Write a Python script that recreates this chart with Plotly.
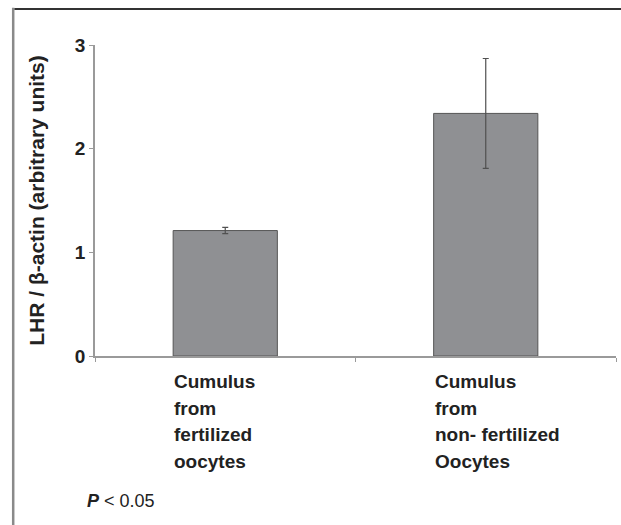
import plotly.graph_objects as go

# Group labels (one list of caption lines per bar) and measured LHR / beta-actin ratios
categories = ["fertilized", "non-fertilized"]
category_lines = [
    ["Cumulus", "from", "fertilized", "oocytes"],
    ["Cumulus", "from", "non- fertilized", "Oocytes"],
]
means = [1.21, 2.34]
errors = [0.03, 0.53]
y_ticks = [0, 1, 2, 3]

FONT = "Liberation Sans, Arial, sans-serif"
AXIS_GREY = "#9a9a9a"
TEXT = "#222222"
LINE_STEP = 26.5  # px between caption lines

fig = go.Figure()
fig.add_trace(go.Bar(
    x=categories,
    y=means,
    width=0.4,
    marker=dict(color="#8f9093", line=dict(color="#555555", width=1)),
    error_y=dict(type="data", array=errors, visible=True,
                 color="#505050", thickness=1.2, width=3),
    showlegend=False,
))

# Left-aligned group captions under each bar, one annotation per line
for cat, lines in zip(categories, category_lines):
    for i, line in enumerate(lines):
        fig.add_annotation(
            x=cat, y=0, xref="x", yref="y",
            text=line, showarrow=False,
            xanchor="left", yanchor="top", align="left",
            xshift=-53, yshift=-13 - i * LINE_STEP,
            font=dict(family=FONT, size=19, color=TEXT, weight="bold"),
        )

# Significance note
fig.add_annotation(
    x=-0.019, y=-0.465, xref="paper", yref="paper",
    text="<b><i>P</i></b> < 0.05", showarrow=False,
    xanchor="left", yanchor="middle",
    font=dict(family=FONT, size=18, color=TEXT),
)

# Frame lines along the top and left edges of the figure
fig.add_shape(type="line", xref="paper", yref="paper",
              x0=-0.155, x1=1.02, y0=1.116, y1=1.116,
              line=dict(color="#333333", width=2))
fig.add_shape(type="line", xref="paper", yref="paper",
              x0=-0.157, x1=-0.157, y0=1.12, y1=-0.56,
              line=dict(color="#8a8a8a", width=2.5))

fig.update_layout(
    width=621, height=525,
    margin=dict(l=95, r=5, t=45, b=169),
    paper_bgcolor="white", plot_bgcolor="white",
    font=dict(family=FONT, color=TEXT),
)
fig.update_xaxes(
    range=[-0.5, 1.5],
    showline=True, linecolor=AXIS_GREY, linewidth=1.5,
    ticks="outside", tickson="boundaries", ticklen=4, tickcolor=AXIS_GREY,
    showticklabels=False, showgrid=False, zeroline=False,
)
fig.update_yaxes(
    range=[0, 3],
    tickvals=y_ticks,
    showline=True, linecolor=AXIS_GREY, linewidth=1.5,
    ticks="outside", ticklen=4, tickcolor=AXIS_GREY,
    tickfont=dict(family=FONT, size=19, color=TEXT, weight="bold"),
    title=dict(text="LHR / β-actin (arbitrary units)",
               font=dict(family=FONT, size=21, color=TEXT, weight="bold"),
               standoff=25),
    showgrid=False, zeroline=False,
)

fig.write_html("out.html")
